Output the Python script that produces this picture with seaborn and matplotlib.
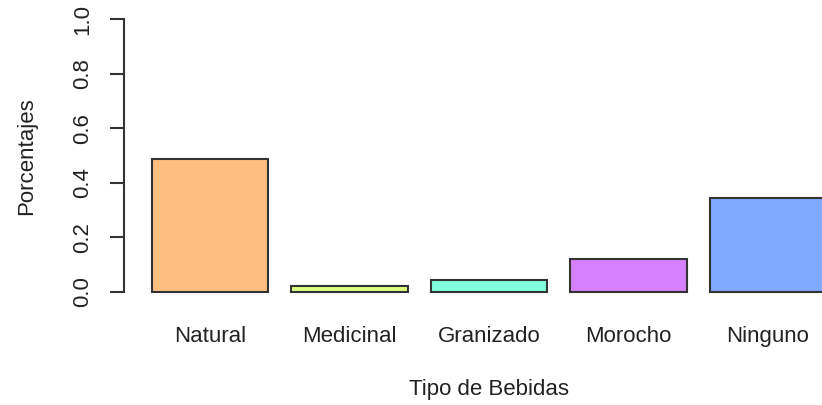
import matplotlib
matplotlib.use("Agg")
import matplotlib.pyplot as plt
import seaborn as sns
import pandas as pd

# datos del grafico
bebidas = ["Natural", "Medicinal", "Granizado", "Morocho", "Ninguno"]
porcentajes = [0.488, 0.022, 0.044, 0.119, 0.345]
colores = ["#FFBF80", "#DFFF80", "#80FFDF", "#D580FF", "#80AAFF"]
yticks = [0.0, 0.2, 0.4, 0.6, 0.8, 1.0]
ytick_labels = ["0.0", "0.2", "0.4", "0.6", "0.8", "1.0"]

df = pd.DataFrame({"bebida": bebidas, "pct": porcentajes})

sns.set_style("white")
plt.rcParams["font.family"] = ["Liberation Sans", "DejaVu Sans"]

W, H = 822, 405
fig = plt.figure(figsize=(W / 100, H / 100), dpi=100)
# region del grafico (en pixeles): izquierda 124, abajo 302.6, arriba 8.1, derecha cortada
ax = fig.add_axes([124 / W, (H - 302.6) / H, (W - 124) / W, (302.6 - 8.1) / H])

# barras al estilo barplot de R: ancho 1, espacio 0.2
sns.barplot(data=df, x="bebida", y="pct", hue="bebida", palette=colores,
            legend=False, ax=ax, width=1 / 1.2, edgecolor="#333333",
            linewidth=1.5, saturation=1)

# eje x: las barras de seaborn estan en 0..4; convertir limites de R
# R: izquierda -0.038, derecha 5.964 en unidades de barra (paso 1.2, inicio 0.2)
def r2sns(v):
    return (v - 0.7) / 1.2

ax.set_xlim(r2sns(-0.038), r2sns(5.964))
ax.set_ylim(-0.04, 1.04)

for s in ["top", "right", "bottom"]:
    ax.spines[s].set_visible(False)
ax.spines["left"].set_bounds(0, 1)
ax.spines["left"].set_color("#333333")
ax.spines["left"].set_linewidth(1.5)

ax.set_yticks(yticks)
ax.set_yticklabels(ytick_labels, rotation=90, va="center", fontsize=16, color="#222222")
ax.tick_params(axis="y", left=True, direction="out", length=10, width=1.5,
               color="#333333", pad=12)
ax.tick_params(axis="x", bottom=False, length=0, pad=17, labelsize=16, labelcolor="#222222")
ax.set_xlabel("")
ax.set_ylabel("")

fig.text(27 / W, 1 - 156 / H, "Porcentajes", rotation=90, ha="center", va="center",
         fontsize=16, color="#222222")
fig.text(488.5 / W, 1 - 390 / H, "Tipo de Bebidas", ha="center", va="center",
         fontsize=16, color="#222222")

fig.savefig("out.png", dpi=100)
